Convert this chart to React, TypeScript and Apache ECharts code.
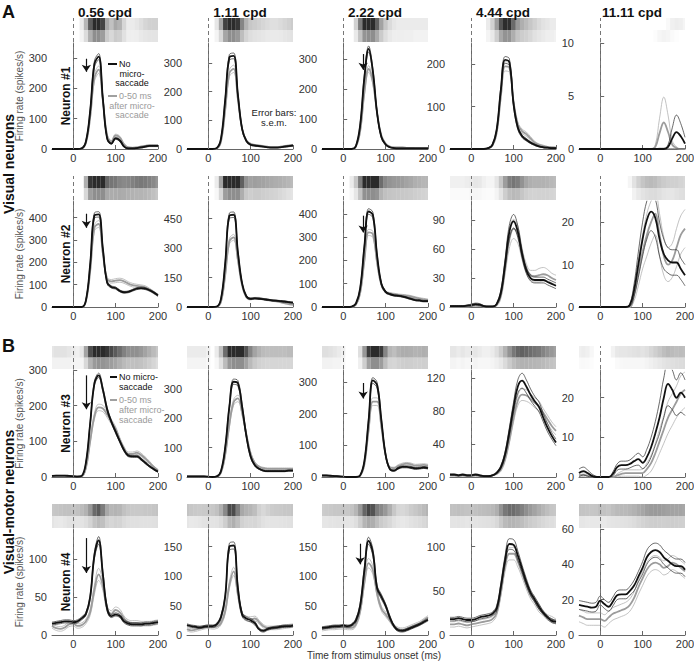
import React, { useEffect, useRef } from "react";
import * as echarts from "echarts";

// ---------- DATA ----------
const TIME = [-50, -40, -30, -20, -10, 0, 10, 20, 30, 40, 50, 60, 70, 80, 90, 100, 110, 120, 130, 140, 150, 160, 170, 180, 190, 200];
const COLUMN_TITLES = ["0.56 cpd", "1.11 cpd", "2.22 cpd", "4.44 cpd", "11.11 cpd"];
const NEURON_LABELS = ["Neuron #1", "Neuron #2", "Neuron #3", "Neuron #4"];
const X_TICKS = [0, 100, 200];

const Y_MAX = [
  [350, 370, 355, 250, 10],
  [475, 540, 455, 110, 25],
  [300, 365, 338, 130, 27],
  [140, 180, 180, 120, 60],
];
const Y_TICKS = [
  [[0, 100, 200, 300], [0, 100, 200, 300], [0, 100, 200, 300], [0, 100, 200], [0, 5, 10]],
  [[0, 100, 200, 300, 400], [0, 150, 300, 450], [0, 100, 200, 300, 400], [0, 30, 60, 90], [0, 10, 20]],
  [[0, 100, 200, 300], [0, 100, 200, 300], [0, 100, 200, 300], [0, 40, 80, 120], [0, 10, 20]],
  [[0, 50, 100], [0, 50, 100, 150], [0, 50, 100, 150], [0, 50, 100], [0, 20, 40, 60]],
];

// arrows: [row, col, time, from, to]
const ARROWS = [
  [0, 0, 31, 298, 255], [0, 2, 47, 318, 265],
  [1, 0, 31, 418, 355], [1, 2, 47, 392, 320],
  [2, 0, 31, 285, 190], [2, 2, 47, 297, 248],
  [3, 0, 31, 128, 82], [3, 2, 40, 155, 120],
];

// Row 1
const R1C1_B = [0,0,0,0,0,0,0,2,25,125,280,305,165,35,18,35,28,8,2,2,3,5,8,10,10,10];
const R1C1_BS = [0,0,0,0,0,0,0,1,3,8,10,10,8,3,2,3,3,2,1,1,1,2,2,2,2,2];
const R1C1_G = [0,0,0,0,0,0,0,2,20,105,235,262,160,45,25,45,38,15,5,4,5,8,10,12,12,12];
const R1C1_GS = [0,0,0,0,0,0,0,1,3,8,12,12,9,4,3,4,4,3,2,2,2,2,2,2,2,2];

const R1C2_B = [0,0,0,0,0,0,0,3,35,170,320,325,190,70,28,15,12,10,8,6,5,5,6,8,10,12];
const R1C2_BS = [0,0,0,0,0,0,0,1,3,8,10,10,8,4,2,2,2,2,1,1,1,1,1,2,2,2];
const R1C2_G = [0,0,0,0,0,0,0,2,25,135,265,280,175,70,30,18,14,12,10,8,7,7,8,10,12,14];
const R1C2_GS = [0,0,0,0,0,0,0,1,3,8,12,13,9,4,3,2,2,2,2,1,1,1,1,2,2,2];

const R1C3_B = [0,0,0,0,0,0,0,0,10,80,240,335,260,120,40,15,6,3,2,2,2,2,2,2,2,2];
const R1C3_BS = [0,0,0,0,0,0,0,0,2,6,9,10,8,5,3,2,1,1,1,1,1,1,1,1,1,1];
const R1C3_G = [0,0,0,0,0,0,0,0,8,60,190,268,225,120,45,18,8,5,5,5,4,4,3,3,3,3];
const R1C3_GS = [0,0,0,0,0,0,0,0,2,5,9,11,9,5,3,2,1,1,1,1,1,1,1,1,1,1];

const R1C4_B = [0,0,0,0,0,0,0,0,0,2,10,45,140,210,205,105,50,30,22,15,10,6,4,3,2,2];
const R1C4_BS = [0,0,0,0,0,0,0,0,0,1,2,4,7,8,8,6,4,3,3,2,2,1,1,1,1,1];
const R1C4_G = [0,0,0,0,0,0,0,0,0,2,8,38,125,195,192,110,58,42,35,25,15,10,7,5,4,3];
const R1C4_GS = [0,0,0,0,0,0,0,0,0,1,2,4,8,11,11,7,5,5,5,4,3,2,2,1,1,1];

const R1C5_B = [0,0,0,0,0,0,0,0,0,0,0,0,0,0,0,0,0,0,0,0,0,0.2,1.0,1.6,1.2,0.5];
const R1C5_BS = [0,0,0,0,0,0,0,0,0,0,0,0,0,0,0,0,0,0,0,0,0,0.2,1.0,1.6,1.2,0.6];
const R1C5_G = [0,0,0,0,0,0,0,0,0,0,0,0,0,0,0,0,0,0,0.2,1.5,2.5,1.6,0.4,0.1,0,0];
const R1C5_GS = [0,0,0,0,0,0,0,0,0,0,0,0,0,0,0,0,0,0,0.2,1.4,2.4,1.6,0.4,0.1,0,0];

// Row 2
const R2C1_B = [0,0,0,0,0,0,0,0,30,190,410,415,260,110,90,85,72,66,68,75,82,85,82,75,65,52];
const R2C1_BS = [0,0,0,0,0,0,0,0,3,10,12,12,10,6,5,5,4,4,4,4,4,4,4,4,4,4];
const R2C1_G = [0,0,0,0,0,0,0,0,25,160,355,372,240,125,115,118,120,115,105,98,95,92,88,78,65,52];
const R2C1_GS = [0,0,0,0,0,0,0,0,3,10,14,15,12,8,8,9,9,9,8,8,7,7,7,6,6,5];

const R2C2_B = [0,0,0,0,0,0,0,2,40,220,465,470,280,120,55,42,44,42,40,37,34,32,30,28,25,22];
const R2C2_BS = [0,0,0,0,0,0,0,1,4,10,14,14,10,5,3,3,3,3,3,3,3,3,3,3,3,3];
const R2C2_G = [0,0,0,0,0,0,0,1,25,160,335,355,240,110,50,40,45,45,40,36,33,30,25,20,15,12];
const R2C2_GS = [0,0,0,0,0,0,0,1,3,9,14,15,11,6,4,4,4,4,4,4,4,4,3,3,3,3];

const R2C3_B = [0,0,0,0,0,0,0,2,15,80,260,410,395,220,100,65,55,50,48,45,40,35,30,28,25,25];
const R2C3_BS = [0,0,0,0,0,0,0,1,2,6,10,12,12,9,5,4,3,3,3,3,3,3,3,3,3,3];
const R2C3_G = [0,0,0,0,0,0,0,1,10,60,200,320,312,190,95,65,58,55,52,50,48,45,40,36,33,30];
const R2C3_GS = [0,0,0,0,0,0,0,1,2,5,10,13,13,9,6,5,4,4,4,4,4,4,4,4,4,4];

const R2C4_B = [1,1,1,1,1.5,2,3,2.5,1,0.5,0.5,3,15,45,78,89,78,55,38,30,28,28,28,26,24,22];
const R2C4_BS = [0.5,0.5,0.5,0.5,0.5,1,1,1,0.5,0.3,0.3,1,3,5,7,7,6,4,3,3,3,3,3,3,3,3];
const R2C4_G = [0.5,0.5,0.5,0.5,0.5,1,1.5,1,0.5,0.3,0.3,2,12,40,70,81,75,55,40,33,32,33,34,33,30,28];
const R2C4_GS = [0.5,0.5,0.5,0.5,0.5,0.5,0.5,0.5,0.3,0.2,0.2,1,3,6,9,10,9,6,5,5,6,7,7,6,5,5];

const R2C5_B = [0,0,0,0,0,0,0,0,0,0,0,0,0.5,4,10,16,20.5,22.5,21,16,12.5,11,10.5,10.5,9,7.5];
const R2C5_BS = [0,0,0,0,0,0,0,0,0,0,0,0,0.3,1.5,3,4,4.5,4.5,4.5,4,3.5,3,3,3,2.5,2.5];
const R2C5_G = [0,0,0,0,0,0,0,0,0,0,0,0,0,3,8,13,17,20,22,17,12,10,11,14,17,18.5];
const R2C5_GS = [0,0,0,0,0,0,0,0,0,0,0,0,0,1.5,3,4,5,5,5,5,4.5,4,4,4.5,4.5,4.5];

// Row 3
const R3C1_B = [3,4,4,4,3,2,1,3,40,150,262,285,245,190,155,127,100,75,60,58,58,50,40,30,22,15];
const R3C1_BS = [0.5,0.5,0.5,0.5,0.5,0.5,0.5,0.5,2,5,6,6,6,5,4,4,3,3,3,3,3,3,3,2,2,2];
const R3C1_G = [3,3,3,3,3,2,2,2,25,100,170,195,192,175,155,135,105,80,65,65,68,62,52,40,28,18];
const R3C1_GS = [0.5,0.5,0.5,0.5,0.5,0.5,0.5,0.5,2,5,8,9,9,8,7,6,5,5,5,5,5,5,4,4,3,3];

const R3C2_B = [2,2,2,2,2,1,0,2,20,100,240,325,320,240,140,70,40,28,22,20,20,20,20,20,22,22];
const R3C2_BS = [0.5,0.5,0.5,0.5,0.5,0.5,0.5,0.5,2,5,8,9,9,8,6,4,3,2,2,2,2,2,2,2,2,2];
const R3C2_G = [2,2,2,2,2,1,0,1,15,75,180,255,268,220,145,80,48,35,30,28,28,28,28,28,28,28];
const R3C2_GS = [0.5,0.5,0.5,0.5,0.5,0.5,0.5,0.5,2,5,9,10,11,9,7,5,3,3,3,3,3,3,3,3,3,3];

const R3C3_B = [5,5,4,3,2,1,0,0,0,5,50,180,305,290,180,70,25,20,28,32,32,30,27,28,30,28];
const R3C3_BS = [1,1,1,1,1,0.5,0,0,0,1,4,8,9,9,7,4,2,2,3,3,3,3,3,3,3,3];
const R3C3_G = [3,3,3,2,2,1,0,0,0,4,40,150,238,238,160,70,30,28,35,40,42,40,36,37,38,36];
const R3C3_GS = [1,1,1,1,1,0.5,0,0,0,1,4,9,12,12,9,5,3,3,4,4,4,4,4,4,4,4];

const R3C4_B = [3,3,2,3,2,2,3,2,1,1,2,5,12,28,55,85,110,117,110,100,92,85,72,60,50,42];
const R3C4_BS = [0.8,0.8,0.8,0.8,0.8,0.8,0.8,0.8,0.5,0.5,0.5,1,2,3,5,6,8,9,8,7,6,6,5,5,4,4];
const R3C4_G = [2,2,1,2,1,1,2,1,1,1,2,4,9,22,45,72,93,100,99,95,90,86,78,70,62,56];
const R3C4_GS = [0.8,0.8,0.8,0.8,0.8,0.8,0.8,0.8,0.5,0.5,0.5,1,2,3,4,5,6,7,7,6,6,6,5,5,5,5];

const R3C5_B = [1,1.5,1,0.3,0,0,0,0,0.8,2.5,3,3,3.3,4,4.5,3.6,5,7.5,11,15,20,23.5,22,20,21.3,20];
const R3C5_BS = [1,1,0.8,0.5,0.2,0,0,0,0.5,0.8,1,1,1,1.2,1.5,1.5,2,2.5,3,4,5,5.5,5,4.5,5,4.5];
const R3C5_G = [0.5,0.6,0.4,0.2,0,0,0,0,0,0.4,0.8,1,1,1,1,1,2,3.5,6,9,12,15,17,19,21,22];
const R3C5_GS = [0.5,0.5,0.4,0.2,0,0,0,0,0,0.4,0.6,0.8,0.8,0.8,0.8,1,1.5,2,2.5,3,3.5,4,4,4,4.5,4.5];

// Row 4
const R4C1_B = [15,16,17,18,18,17,18,22,28,50,105,125,80,35,25,27,25,18,15,14,14,14,15,15,16,17];
const R4C1_BS = [2,2,2,2,2,2,2,2,2,3,4,5,4,3,2,2,2,2,2,2,2,2,2,2,2,2];
const R4C1_G = [12,9,8,10,14,15,12,13,18,30,60,80,65,35,28,33,30,22,17,16,16,15,15,15,16,17];
const R4C1_GS = [3,3,3,3,3,3,3,3,3,4,6,8,6,4,4,4,4,3,3,3,3,3,3,3,3,3];

const R4C2_B = [17,15,14,13,14,15,15,18,30,65,150,152,80,35,28,25,20,10,7,10,12,13,14,15,15,16];
const R4C2_BS = [2,2,2,2,2,2,2,2,3,4,6,6,5,3,3,3,3,2,2,2,2,2,2,2,2,2];
const R4C2_G = [10,8,9,11,13,14,13,14,20,40,85,108,70,35,28,27,28,22,15,12,12,12,13,14,15,16];
const R4C2_GS = [3,3,3,3,3,3,3,3,3,4,6,7,6,4,4,4,4,3,3,3,3,3,3,3,3,3];

const R4C3_B = [12,13,14,15,15,16,15,17,25,50,110,160,140,80,65,50,30,15,8,7,9,12,15,18,22,26];
const R4C3_BS = [2,2,2,2,2,2,2,2,3,4,5,6,6,4,4,3,3,2,2,2,2,2,2,2,2,2];
const R4C3_G = [10,11,12,12,13,13,12,12,18,40,90,122,110,70,45,35,25,15,10,9,11,14,17,20,25,30];
const R4C3_GS = [3,3,3,3,3,3,3,3,3,4,6,8,7,5,4,4,3,3,3,3,3,3,3,3,3,3];

const R4C4_B = [18,18,19,18,17,17,18,20,21,22,24,30,55,85,103,102,90,75,60,48,40,32,25,20,16,15];
const R4C4_BS = [2,2,2,2,2,2,2,2,2,2,2,3,4,5,6,6,5,4,4,3,3,3,2,2,2,2];
const R4C4_G = [12,12,13,12,11,12,13,14,15,16,18,25,48,78,92,92,83,70,57,45,38,30,25,20,18,15];
const R4C4_GS = [3,3,3,3,3,3,3,3,3,3,3,3,4,6,7,7,6,5,5,4,4,4,3,3,3,3];

const R4C5_B = [17,16.5,16,15.5,16,19.5,17.5,16,19,22.5,23,23,25,28,33,38,44,47,48,47,44,42,40,39,39,37];
const R4C5_BS = [2.5,2.5,2.5,2.5,2.5,2.5,2.5,2.5,2.5,2.5,2.5,2.5,2.5,3,3,3.5,4,4,4,4,4,4,4,4,4,4];
const R4C5_G = [11,10,9,9,9,9,8,10,12,13,14,15,17,21,27,32,37,40,41,40,38,39,41,40,38,36];
const R4C5_GS = [3.5,3.5,3.5,3.5,3.5,3.5,3.5,3.5,3.5,3.5,3.5,3.5,3.5,3.5,4,4,4,4,4,4,4,4,4,4,4,4];

const PANELS = [
  [
    { b: R1C1_B, bs: R1C1_BS, g: R1C1_G, gs: R1C1_GS },
    { b: R1C2_B, bs: R1C2_BS, g: R1C2_G, gs: R1C2_GS },
    { b: R1C3_B, bs: R1C3_BS, g: R1C3_G, gs: R1C3_GS },
    { b: R1C4_B, bs: R1C4_BS, g: R1C4_G, gs: R1C4_GS },
    { b: R1C5_B, bs: R1C5_BS, g: R1C5_G, gs: R1C5_GS },
  ],
  [
    { b: R2C1_B, bs: R2C1_BS, g: R2C1_G, gs: R2C1_GS },
    { b: R2C2_B, bs: R2C2_BS, g: R2C2_G, gs: R2C2_GS },
    { b: R2C3_B, bs: R2C3_BS, g: R2C3_G, gs: R2C3_GS },
    { b: R2C4_B, bs: R2C4_BS, g: R2C4_G, gs: R2C4_GS },
    { b: R2C5_B, bs: R2C5_BS, g: R2C5_G, gs: R2C5_GS },
  ],
  [
    { b: R3C1_B, bs: R3C1_BS, g: R3C1_G, gs: R3C1_GS },
    { b: R3C2_B, bs: R3C2_BS, g: R3C2_G, gs: R3C2_GS },
    { b: R3C3_B, bs: R3C3_BS, g: R3C3_G, gs: R3C3_GS },
    { b: R3C4_B, bs: R3C4_BS, g: R3C4_G, gs: R3C4_GS },
    { b: R3C5_B, bs: R3C5_BS, g: R3C5_G, gs: R3C5_GS },
  ],
  [
    { b: R4C1_B, bs: R4C1_BS, g: R4C1_G, gs: R4C1_GS },
    { b: R4C2_B, bs: R4C2_BS, g: R4C2_G, gs: R4C2_GS },
    { b: R4C3_B, bs: R4C3_BS, g: R4C3_G, gs: R4C3_GS },
    { b: R4C4_B, bs: R4C4_BS, g: R4C4_G, gs: R4C4_GS },
    { b: R4C5_B, bs: R4C5_BS, g: R4C5_G, gs: R4C5_GS },
  ],
];

// ---------- LAYOUT ----------
const COL_LEFT = [52, 187, 322, 450, 579];
const PLOT_W = 106;
const ROW_TOP = [43, 201, 370, 529];
const ROW_H = [106, 106, 107, 106];
const RASTER_TOP = [18, 176, 346, 504];
const RASTER_H = [24, 24, 23, 24];
const FONT = "Liberation Sans, Arial, Helvetica, sans-serif";

function buildOption() {
  const grid: any[] = [];
  const xAxis: any[] = [];
  const yAxis: any[] = [];
  const series: any[] = [];
  const dashed = {
    silent: true,
    symbol: ["none", "none"],
    label: { show: false },
    lineStyle: { type: [4, 3], color: "#777", width: 1 },
    data: [{ xAxis: 0 }],
  };

  for (let r = 0; r < 4; r++) {
    for (let c = 0; c < 5; c++) {
      const p = PANELS[r][c];
      const gi = grid.length;
      grid.push({ left: COL_LEFT[c], top: ROW_TOP[r], width: PLOT_W, height: ROW_H[r], containLabel: false, outerBoundsMode: "none" });
      grid.push({ left: COL_LEFT[c], top: RASTER_TOP[r], width: PLOT_W, height: RASTER_H[r], containLabel: false, outerBoundsMode: "none" });
      xAxis.push({
        gridIndex: gi, type: "value", min: -50, max: 200,
        axisLine: { show: true, onZero: false, lineStyle: { color: "#666", width: 1 } },
        axisTick: { show: true, inside: true, length: 4, customValues: X_TICKS, lineStyle: { color: "#666" } },
        axisLabel: { customValues: X_TICKS, fontSize: 11, color: "#333", margin: 3, fontFamily: FONT },
        splitLine: { show: false },
      });
      xAxis.push({ gridIndex: gi + 1, type: "value", min: -50, max: 200, show: false });
      const ticks = Y_TICKS[r][c];
      const y: any = {
        gridIndex: gi, type: "value", min: 0, max: Y_MAX[r][c],
        axisLine: { show: true, lineStyle: { color: "#666", width: 1 } },
        axisTick: { show: true, inside: true, length: 4, customValues: ticks, lineStyle: { color: "#666" } },
        axisLabel: { customValues: ticks, fontSize: 11, color: "#333", margin: 5, fontFamily: FONT },
        splitLine: { show: false },
      };
      if (c === 0) {
        y.name = "Firing rate (spikes/s)";
        y.nameLocation = "middle";
        y.nameGap = 22;
        y.nameTextStyle = { fontSize: 10, color: "#555", fontFamily: FONT };
      }
      yAxis.push(y);
      yAxis.push({ gridIndex: gi + 1, type: "value", min: 0, max: 2, show: false });

      const mk = (arr: number[]) => TIME.map((t, i) => [t, arr[i]]);
      const up = (m: number[], s: number[]) => TIME.map((t, i) => [t, m[i] + s[i]]);
      const lo = (m: number[], s: number[]) => TIME.map((t, i) => [t, Math.max(0, m[i] - s[i])]);
      const base = { type: "line", xAxisIndex: gi, yAxisIndex: gi, showSymbol: false, symbol: "none", smooth: 0.4, silent: true, clip: true };

      series.push({ ...base, data: up(p.g, p.gs), lineStyle: { color: "#b3b3b3", width: 0.8 }, markLine: dashed });
      series.push({ ...base, data: lo(p.g, p.gs), lineStyle: { color: "#b3b3b3", width: 0.8 } });
      series.push({ ...base, data: mk(p.g), lineStyle: { color: "#9c9c9c", width: 1.8 } });
      series.push({ ...base, data: up(p.b, p.bs), lineStyle: { color: "#2a2a2a", width: 0.7 } });
      series.push({ ...base, data: lo(p.b, p.bs), lineStyle: { color: "#2a2a2a", width: 0.7 } });
      const arrow = ARROWS.find((a) => a[0] === r && a[1] === c);
      const blackMean: any = { ...base, data: mk(p.b), lineStyle: { color: "#111", width: 1.8 } };
      if (arrow) {
        blackMean.markLine = {
          silent: true,
          symbol: ["none", "arrow"],
          symbolSize: 7,
          label: { show: false },
          lineStyle: { type: "solid", color: "#111", width: 1.2 },
          data: [[{ coord: [arrow[2], arrow[3]] }, { coord: [arrow[2], arrow[4]] }]],
        };
      }
      series.push(blackMean);

      // raster (density drawn from the firing-rate curves)
      const alpha = (v: number) => Math.min(0.9, Math.sqrt(Math.max(0, v) / 260));
      const rdata = TIME.map((t, i) => [t, 1, alpha(p.b[i])]).concat(TIME.map((t, i) => [t, 0, alpha(p.g[i])]));
      series.push({
        type: "custom",
        xAxisIndex: gi + 1,
        yAxisIndex: gi + 1,
        clip: true,
        silent: true,
        data: rdata,
        encode: { x: 0, y: 1 },
        markLine: dashed,
        renderItem: (params: any, api: any) => {
          const t = api.value(0);
          const band = api.value(1);
          const a = api.value(2);
          const p0 = api.coord([t - 5, band + 1]);
          const p1 = api.coord([t + 5, band]);
          return {
            type: "rect",
            shape: { x: p0[0], y: p0[1], width: p1[0] - p0[0], height: p1[1] - p0[1] },
            style: { fill: band === 1 ? `rgba(20,20,20,${a})` : `rgba(130,130,130,${a})` },
          };
        },
      });
    }
  }

  const graphic: any[] = [];
  const txt = (x: number, y: number, text: string, o: any = {}) => ({
    type: "text", x, y, rotation: o.rot || 0, silent: true,
    style: {
      text, fontSize: o.size || 10, fontWeight: o.bold ? "bold" : "normal", fill: o.color || "#111",
      align: o.align || "left", verticalAlign: o.va || "middle", fontFamily: FONT,
    },
  });
  graphic.push(txt(2, 12, "A", { size: 18, bold: true }));
  graphic.push(txt(2, 346, "B", { size: 18, bold: true }));
  COLUMN_TITLES.forEach((t, c) => graphic.push(txt(COL_LEFT[c] + PLOT_W / 2, 12, t, { size: 13.5, bold: true, align: "center" })));
  graphic.push(txt(9, 164, "Visual neurons", { size: 14, bold: true, align: "center", rot: Math.PI / 2 }));
  graphic.push(txt(9, 502, "Visual-motor neurons", { size: 14, bold: true, align: "center", rot: Math.PI / 2 }));
  NEURON_LABELS.forEach((t, r) => graphic.push(txt(66, ROW_TOP[r] + ROW_H[r] / 2, t, { size: 12, bold: true, align: "center", rot: Math.PI / 2 })));

  const LS = 9; // legend font size
  // legend row 1
  graphic.push({ type: "line", silent: true, shape: { x1: 108, y1: 64, x2: 117, y2: 64 }, style: { stroke: "#111", lineWidth: 2 } });
  graphic.push(txt(119, 64, "No", { size: LS }));
  graphic.push(txt(132, 73.5, "micro-", { size: LS, align: "center" }));
  graphic.push(txt(132, 83, "saccade", { size: LS, align: "center" }));
  graphic.push({ type: "line", silent: true, shape: { x1: 108, y1: 96, x2: 117, y2: 96 }, style: { stroke: "#a0a0a0", lineWidth: 2 } });
  graphic.push(txt(119, 96, "0-50 ms", { size: LS, color: "#9a9a9a" }));
  graphic.push(txt(132, 105.5, "after micro-", { size: LS, align: "center", color: "#9a9a9a" }));
  graphic.push(txt(132, 115, "saccade", { size: LS, align: "center", color: "#9a9a9a" }));
  // legend row 3
  graphic.push({ type: "line", silent: true, shape: { x1: 110, y1: 377, x2: 117, y2: 377 }, style: { stroke: "#111", lineWidth: 2 } });
  graphic.push(txt(119, 377, "No micro-", { size: LS }));
  graphic.push(txt(119, 387, "saccade", { size: LS }));
  graphic.push({ type: "line", silent: true, shape: { x1: 110, y1: 400, x2: 117, y2: 400 }, style: { stroke: "#a0a0a0", lineWidth: 2 } });
  graphic.push(txt(119, 400, "0-50 ms", { size: LS, color: "#9a9a9a" }));
  graphic.push(txt(119, 410, "after micro-", { size: LS, color: "#9a9a9a" }));
  graphic.push(txt(119, 420, "saccade", { size: LS, color: "#9a9a9a" }));

  graphic.push(txt(274, 112, "Error bars:", { size: 9.5, align: "center", color: "#222" }));
  graphic.push(txt(274, 122, "s.e.m.", { size: 9.5, align: "center", color: "#222" }));
  graphic.push(txt(374, 655, "Time from stimulus onset (ms)", { size: 10, align: "center", color: "#333" }));

  return {
    animation: false,
    backgroundColor: "#fff",
    textStyle: { fontFamily: FONT },
    grid, xAxis, yAxis, series, graphic,
  };
}

export default function App() {
  const ref = useRef<HTMLDivElement>(null);
  useEffect(() => {
    if (!ref.current) return;
    const chart = echarts.init(ref.current, null, { renderer: "svg" });
    chart.setOption(buildOption() as any);
    return () => chart.dispose();
  }, []);
  return <div ref={ref} style={{ position: "absolute", left: 0, top: 0, width: 694, height: 663 }} />;
}
